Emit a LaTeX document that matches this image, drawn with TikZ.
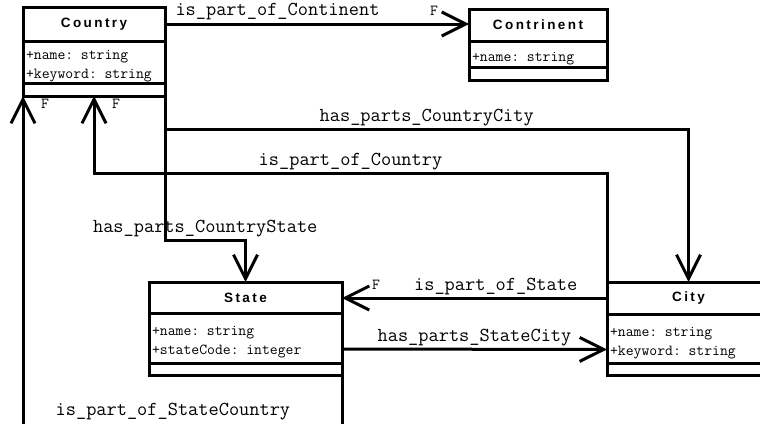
\documentclass[tikz,border=0pt]{standalone}
\usepackage{fontspec}
\usetikzlibrary{positioning,arrows.meta}
\newfontfamily\classfont[LetterSpace=18]{Liberation Sans}
\newcommand\namefont{\classfont\bfseries\fontsize{13.5}{16}\selectfont}
\newcommand\attrfont{\ttfamily\fontsize{15.3}{19}\selectfont}
\newcommand\rolefont{\ttfamily\fontsize{19.8}{22}\selectfont}

\begin{document}
\begin{tikzpicture}[x=1pt, y=-1pt, line width=3pt, >={Straight Barb[length=24pt,width=24pt]}]
    \tikzstyle{class part}=[draw, line width=3pt, outer sep=0pt, inner sep=0pt]
    \tikzstyle{class name}=[class part, font=\namefont, anchor=north]
    \tikzstyle{class attr}=[class part, font=\attrfont, align=left, inner xsep=3pt,
        execute at begin node=\rule{0pt}{18pt}]
    \tikzstyle{class ops}=[class part]
    \tikzstyle{assoc}=[->]
    \tikzstyle{role}=[font=\rolefont, anchor=base, yshift=8pt, inner sep=0pt]
    \tikzstyle{mult}=[font=\attrfont, inner sep=0pt]

    \useasboundingbox (0,0) rectangle (760,423);
    \clip (0,0) rectangle (760,423);

    % Draw the class boxes: name, attributes and an empty operations part
    \node[class name, minimum width=142pt, minimum height=34pt] (country) at (94,7) {Country};
    \node[class attr, text width=136pt, minimum height=42pt, below=0pt of country] (country-attr) {+name: string\\+keyword: string};
    \node[class ops, minimum width=142pt, minimum height=13pt, below=0pt of country-attr] (country-ops) {};

    \node[class name, minimum width=138pt, minimum height=32pt] (contrinent) at (538,9) {Contrinent};
    \node[class attr, text width=132pt, minimum height=26pt, below=0pt of contrinent] (contrinent-attr) {+name: string};
    \node[class ops, minimum width=138pt, minimum height=13pt, below=0pt of contrinent-attr] (contrinent-ops) {};

    \node[class name, minimum width=193pt, minimum height=31pt] (state) at (245.5,282) {State};
    \node[class attr, text width=187pt, minimum height=50pt, below=0pt of state] (state-attr) {+name: string\\+stateCode: integer};
    \node[class ops, minimum width=193pt, minimum height=12pt, below=0pt of state-attr] (state-ops) {};

    \node[class name, minimum width=163pt, minimum height=32pt] (city) at (688.5,282) {City};
    \node[class attr, text width=157pt, minimum height=49pt, below=0pt of city] (city-attr) {+name: string\\+keyword: string};
    \node[class ops, minimum width=163pt, minimum height=12pt, below=0pt of city-attr] (city-ops) {};

    % Connect the classes
    \draw[assoc] (country.east) -- node[role, pos=0.37] {is\_part\_of\_Continent}
        node[mult, pos=1, xshift=-35pt, yshift=13pt] {F} (country.east -| contrinent.west);
    \draw[assoc] (country-ops.south east) -- ++(0,33) -| node[role, pos=0.25] {has\_parts\_CountryCity} (city.north);
    \draw[assoc] (country-ops.south east) -- ++(0,144) -| node[role, pos=0.25] {has\_parts\_CountryState} (state.north);
    \draw[assoc] (city.north west) -- ++(0,-109) -| node[role, pos=0.25] {is\_part\_of\_Country}
        node[mult, pos=1, xshift=22pt, yshift=-8pt] {F} (country-ops.south);
    \draw[assoc] (city.west) -- node[role, pos=0.42] {is\_part\_of\_State}
        node[mult, pos=1, xshift=34pt, yshift=13pt] {F} (city.west -| state.east);
    \draw[assoc] ([yshift=-11pt]state-attr.east) -- node[role] {has\_parts\_StateCity} ([yshift=-11pt]city-attr.west);
    \draw[assoc] (state-ops.south east) -- ++(0,51) -| node[role, pos=0.265, yshift=3pt] {is\_part\_of\_StateCountry}
        node[mult, pos=1, xshift=22pt, yshift=-8pt] {F} (country-ops.south west);

\end{tikzpicture}
\end{document}
